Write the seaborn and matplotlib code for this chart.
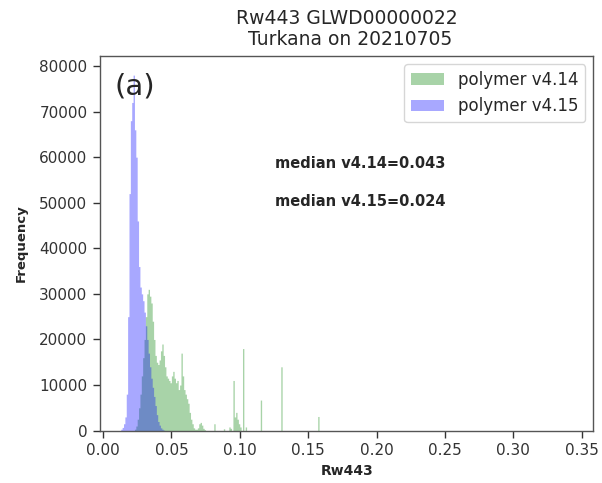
import numpy as np
import pandas as pd
import matplotlib
matplotlib.use("Agg")
import matplotlib.pyplot as plt
import seaborn as sns

# ---- data (bin left edge, count), bin width 0.001 ----
bins_v414 = [0.023, 0.024, 0.025, 0.026, 0.027, 0.028, 0.029, 0.030, 0.031, 0.032,
             0.033, 0.034, 0.035, 0.036, 0.037, 0.038, 0.039, 0.040, 0.041, 0.042,
             0.043, 0.044, 0.045, 0.046, 0.047, 0.048, 0.049, 0.050, 0.051, 0.052,
             0.053, 0.054, 0.055, 0.056, 0.057, 0.058, 0.059, 0.060, 0.061, 0.062,
             0.063, 0.064, 0.065, 0.066, 0.067, 0.068, 0.069, 0.070, 0.071, 0.072,
             0.073, 0.074, 0.081, 0.088, 0.092, 0.093, 0.095, 0.096, 0.097, 0.098,
             0.099, 0.100, 0.102, 0.104, 0.115, 0.130, 0.157]
counts_v414 = [300, 1000, 2500, 5000, 8000, 12000, 16000, 20000, 25000, 30000,
               31000, 29500, 28000, 24000, 20000, 16500, 15000, 14500, 15500, 17500,
               19000, 16500, 14000, 12000, 11500, 11000, 10500, 12000, 13000, 11500,
               10500, 11000, 9000, 10000, 17000, 12000, 9000, 8000, 7000, 6000,
               4000, 2500, 1500, 600, 300, 300, 600, 1500, 1800, 1200,
               500, 200, 1500, 400, 800, 500, 11000, 3000, 4000, 2500,
               1500, 800, 18000, 800, 6700, 14000, 3100]

bins_v415 = [0.013, 0.014, 0.015, 0.016, 0.017, 0.018, 0.019, 0.020, 0.021, 0.022,
             0.023, 0.024, 0.025, 0.026, 0.027, 0.028, 0.029, 0.030, 0.031, 0.032,
             0.033, 0.034, 0.035, 0.036, 0.037, 0.038, 0.039, 0.040, 0.041, 0.042,
             0.043, 0.044]
counts_v415 = [300, 700, 1500, 3000, 8000, 25000, 52000, 68000, 72000, 78000,
               66000, 60000, 46000, 36000, 31500, 30000, 28500, 26000, 23000, 20000,
               17000, 14000, 11500, 9500, 7500, 5500, 3500, 2000, 1200, 600,
               300, 100]

labels = ["polymer v4.14", "polymer v4.15"]
median_texts = ["median v4.14=0.043", "median v4.15=0.024"]
title = "Rw443 GLWD00000022\n Turkana on 20210705"
xlabel = "Rw443"
ylabel = "Frequency"
panel = "(a)"

BW = 0.001
NB = 360
edges = [i * BW for i in range(NB + 1)]


def centers(lefts):
    # put each count in the middle of its bin
    return [(round(v / BW) + 0.5) * BW for v in lefts]


df414 = pd.DataFrame({"x": centers(bins_v414), "w": np.array(counts_v414, dtype=float)})
df415 = pd.DataFrame({"x": centers(bins_v415), "w": np.array(counts_v415, dtype=float)})

sns.set_style("ticks")
plt.rcParams["font.family"] = ["DejaVu Sans"]

fig = plt.figure(figsize=(6.02, 4.83), dpi=100)
ax = fig.add_axes([0.1661, 0.1085, 0.8194, 0.7756])

sns.histplot(data=df414, x="x", weights="w", bins=edges,
             element="step", fill=True, color="green", alpha=0.34, linewidth=0,
             antialiased=False, label=labels[0], ax=ax)
sns.histplot(data=df415, x="x", weights="w", bins=edges,
             element="step", fill=True, color="blue", alpha=0.34, linewidth=0,
             antialiased=False, label=labels[1], ax=ax)

ax.set_xlim(-0.0022, 0.3585)
ax.set_ylim(0, 82200)
ax.set_xticks(np.arange(0, 0.351, 0.05))
ax.set_yticks(np.arange(0, 80001, 10000))
ax.tick_params(axis="both", labelsize=11, length=5, width=1, pad=4, colors="#333333")
for s in ax.spines.values():
    s.set_color("#555555")
    s.set_linewidth(1.0)

ax.set_xlabel(xlabel, fontsize=10, fontweight="bold", labelpad=4)
ax.set_ylabel(ylabel, fontsize=9.5, fontweight="bold", labelpad=8)
ax.set_title(title, fontsize=13.5, pad=8, linespacing=1.1)

ax.text(0.03, 0.955, panel, transform=ax.transAxes, fontsize=21, ha="left", va="top")
ax.text(0.1257, 58700, median_texts[0], fontsize=10.5, fontweight="bold", va="center", ha="left")
ax.text(0.1257, 50200, median_texts[1], fontsize=10.5, fontweight="bold", va="center", ha="left")

leg = ax.legend(loc="upper right", fontsize=12, frameon=True, handlelength=2.0,
                borderaxespad=0.5)
leg.get_frame().set_edgecolor("#cccccc")

fig.savefig("out.png", dpi=100)
